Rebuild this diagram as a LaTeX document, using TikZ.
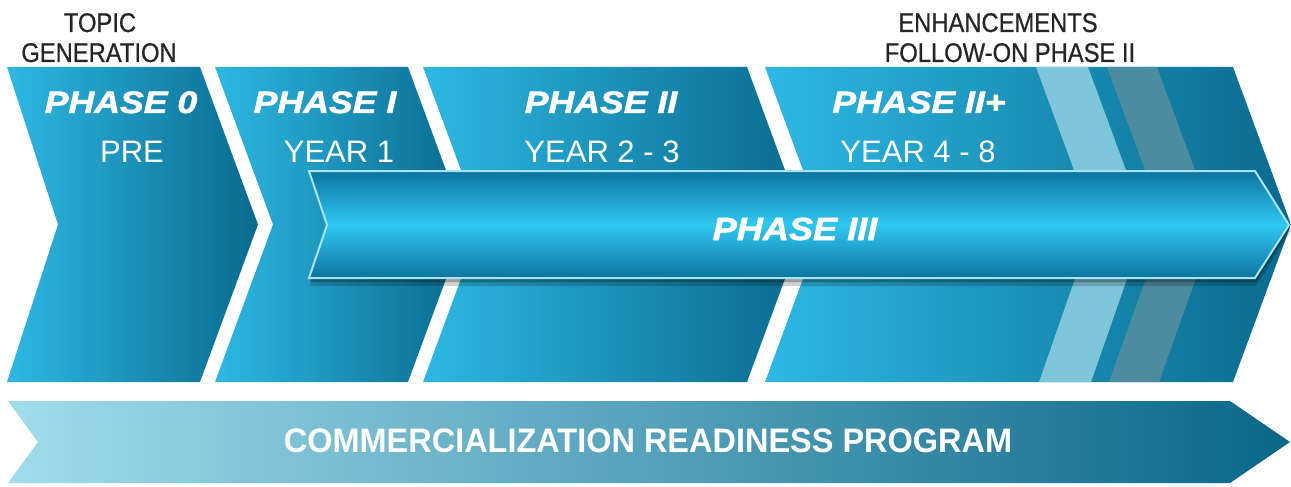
\documentclass[tikz,border=0pt]{standalone}
\usepackage{fontspec}
\setmainfont{Liberation Sans}
\newfontfamily\heavyfont[FakeBold=1.6]{Liberation Sans}
\newfontfamily\medfont[FakeBold=0.7]{Liberation Sans}
\usepackage{graphicx}
\definecolor{chevLight}{HTML}{2DB8E3}
\definecolor{chevDark}{HTML}{0A6A8E}
\definecolor{stripeLight}{HTML}{7FC6DA}
\definecolor{stripeGrey}{HTML}{4D8BA0}
\definecolor{barEdge}{HTML}{0C74A0}
\definecolor{barMid}{HTML}{30C8F0}
\definecolor{barBorder}{HTML}{A6E4F5}
\definecolor{crpLeft}{HTML}{A0DCEC}
\definecolor{crpRight}{HTML}{0A6788}
\definecolor{topText}{HTML}{262626}
\newcommand\wideX[2]{\scalebox{#1}[1]{#2}}
\tikzset{
  chev/.style={left color=chevLight, right color=chevDark, draw=none},
  phaselbl/.style={anchor=base, inner sep=0pt, text=white, font=\fontsize{31}{36}\heavyfont\bfseries\itshape},
  yearlbl/.style={anchor=base, inner sep=0pt, text=white, font=\fontsize{31}{36}\selectfont},
  toplbl/.style={anchor=base, inner sep=0pt, text=topText, font=\fontsize{27}{32}\medfont},
  crplbl/.style={anchor=base, inner sep=0pt, text=white, font=\fontsize{34}{40}\selectfont\bfseries},
}
\begin{document}
\begin{tikzpicture}[x=1pt,y=-1pt]
\useasboundingbox[fill=white] (0,0) rectangle (1291,487);

% phase chevrons
\shade[chev] (7,67) -- (200,67) -- (258,224.5) -- (200,382) -- (7,382) -- (58,224.5) -- cycle;
\shade[chev] (215,67) -- (408,67) -- (466,224.5) -- (408,382) -- (215,382) -- (273,224.5) -- cycle;
\shade[chev] (423,67) -- (747,67) -- (805,224.5) -- (747,382) -- (423,382) -- (481,224.5) -- cycle;
\shade[left color=chevLight, right color=chevDark] (765,67) -- (1233,67) -- (1291,224.5) -- (1233,382) -- (765,382) -- (823,224.5) -- cycle;
% stripes in phase II+
\fill[stripeLight] (1036,67) -- (1088,67) -- (1146,224.5) -- (1091,382) -- (1039,382) -- (1094,224.5) -- cycle;
\fill[stripeGrey] (1107,67) -- (1157,67) -- (1215,224.5) -- (1159,382) -- (1109,382) -- (1165,224.5) -- cycle;

% phase III bar shadow
\fill[black, opacity=0.18] (310,176) -- (1256,176) -- (1291,231) -- (1256,286) -- (310,286) -- (328,231) -- cycle;
\fill[black, opacity=0.25] (310,174) -- (1256,174) -- (1290,228) -- (1256,282) -- (310,282) -- (328,228) -- cycle;
% phase III bar
\shade[top color=barEdge, bottom color=barEdge, middle color=barMid, draw=barBorder, line width=2pt, line join=miter]
  (309,171) -- (1255,171) -- (1289,225) -- (1255,278) -- (309,278) -- (327,225) -- cycle;

% bottom arrow
\shade[left color=crpLeft, right color=crpRight] (8,401) -- (1230,401) -- (1290,442) -- (1230,483) -- (8,483) -- (38,442) -- cycle;

% texts
\node[phaselbl] (p0) at (121,113) {\wideX{1.15}{PHASE 0}};
\node[yearlbl] (y0) at (132,162) {PRE};
\node[phaselbl] (p1) at (325,113) {\wideX{1.15}{PHASE I}};
\node[yearlbl] (y1) at (339,162) {YEAR 1};
\node[phaselbl] (p2) at (601,113) {\wideX{1.15}{PHASE II}};
\node[yearlbl] (y2) at (602,162) {YEAR 2 - 3};
\node[phaselbl] (p3) at (919,113) {\wideX{1.15}{PHASE II+}};
\node[yearlbl] (y3) at (918,162) {YEAR 4 - 8};
\node[phaselbl, font=\fontsize{32}{38}\heavyfont\bfseries\itshape] (p4) at (795,240) {\wideX{1.13}{PHASE III}};
\node[crplbl] (crp) at (648,452) {\wideX{0.955}{COMMERCIALIZATION READINESS PROGRAM}};
\node[toplbl] (tg1) at (100,32) {\wideX{0.88}{TOPIC}};
\node[toplbl] (tg2) at (99,62) {\wideX{0.88}{GENERATION}};
\node[toplbl] (en1) at (998,32) {\wideX{0.88}{ENHANCEMENTS}};
\node[toplbl] (en2) at (1010,62) {\wideX{0.88}{FOLLOW-ON PHASE II}};
\end{tikzpicture}
\end{document}
